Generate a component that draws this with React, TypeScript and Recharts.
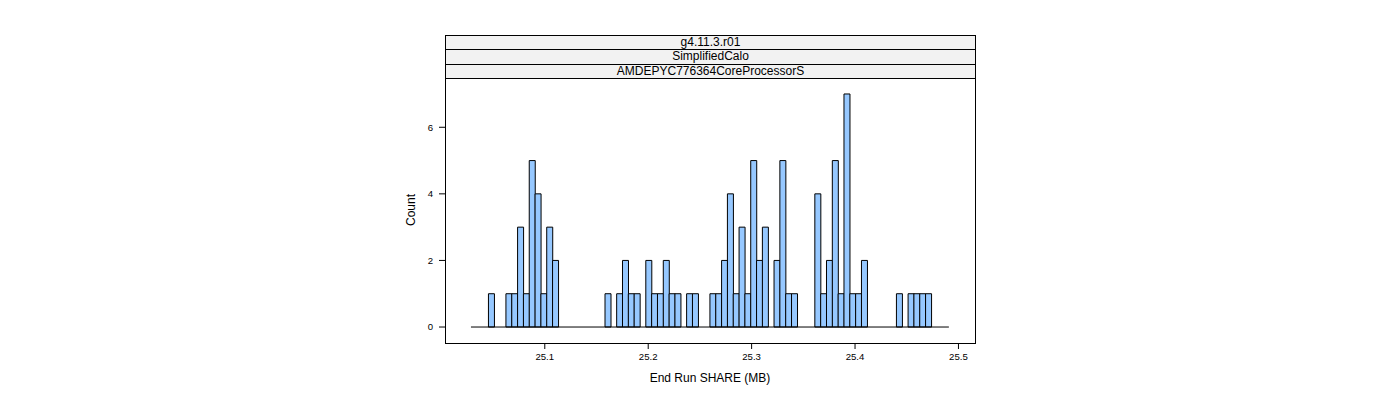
import { BarChart, Bar, XAxis, YAxis, ReferenceLine } from "recharts";

// histogram breaks
const BREAK_START = 25.0286;
const BIN_WIDTH = 0.005636;
const COUNTS = [
  0, 0, 0, 1, 0, 0, 1, 1, 3, 1, 5, 4, 1, 3, 2,
  0, 0, 0, 0, 0, 0, 0, 0,
  1, 0, 1, 2, 1, 1, 0, 2, 1, 1, 2, 1, 1, 0, 1, 1, 0, 0,
  1, 1, 2, 4, 1, 3, 1, 5, 2, 3, 0, 2, 5, 1, 1, 0, 0, 0,
  4, 1, 2, 5, 1, 7, 1, 1, 2,
  0, 0, 0, 0, 0,
  1, 0, 1, 1, 1, 1, 0, 0, 0,
];
const X_TICKS = [25.1, 25.2, 25.3, 25.4, 25.5];
const Y_TICKS = [0, 2, 4, 6];
const STRIPS = ["g4.11.3.r01", "SimplifiedCalo", "AMDEPYC776364CoreProcessorS"];

const X_DOMAIN = [25.0035, 25.516];
const Y_DOMAIN = [-0.48, 7.48];
const FONT = "'Liberation Sans', Arial, sans-serif";

const data = COUNTS.map((count, i) => ({
  mid: BREAK_START + (i + 0.5) * BIN_WIDTH,
  count,
}));
const breakEnd = BREAK_START + COUNTS.length * BIN_WIDTH;

const TopTick = (props: any) => (
  <line x1={props.x} x2={props.x} y1={29} y2={35} stroke="#000" strokeWidth={1} />
);

export default function App() {
  return (
    <div style={{ position: "absolute", left: 0, top: 0, width: 1400, height: 400, fontFamily: FONT, background: "#fff" }}>
      <BarChart
        width={1400}
        height={400}
        data={data}
        margin={{ top: 78, right: 415, bottom: 29, left: 400 }}
        barCategoryGap={0}
        barGap={0}
      >
        <XAxis
          dataKey="mid"
          type="number"
          domain={X_DOMAIN}
          allowDataOverflow
          ticks={X_TICKS}
          tickFormatter={(v: number) => v.toFixed(1)}
          height={28}
          tickSize={6}
          tickMargin={4}
          axisLine={false}
          tickLine={{ stroke: "#000" }}
          tick={{ fontSize: 9.6, fill: "#000", fontFamily: FONT }}
        />
        <XAxis
          xAxisId="top"
          orientation="top"
          type="number"
          domain={X_DOMAIN}
          allowDataOverflow
          ticks={X_TICKS}
          height={0}
          axisLine={false}
          tickLine={false}
          tick={TopTick}
        />
        <YAxis
          type="number"
          domain={Y_DOMAIN}
          allowDataOverflow
          ticks={Y_TICKS}
          width={45}
          tickSize={6}
          tickMargin={6}
          axisLine={false}
          tickLine={{ stroke: "#000" }}
          tick={{ fontSize: 9.6, fill: "#000", fontFamily: FONT }}
        />
        <YAxis
          yAxisId="r"
          orientation="right"
          type="number"
          domain={Y_DOMAIN}
          allowDataOverflow
          ticks={Y_TICKS}
          width={10}
          tickSize={6}
          axisLine={false}
          tickLine={{ stroke: "#000" }}
          tick={false}
        />
        <ReferenceLine
          segment={[{ x: BREAK_START, y: 0 }, { x: breakEnd, y: 0 }]}
          stroke="#000"
          strokeWidth={1}
        />
        <Bar dataKey="count" fill="#96c8ff" stroke="#000" strokeWidth={1} isAnimationActive={false} />
      </BarChart>

      {/* panel border */}
      <div style={{ position: "absolute", left: 445, top: 78, width: 531, height: 266, boxSizing: "border-box", border: "1px solid #000" }} />

      {/* strips */}
      <div style={{ position: "absolute", left: 445, top: 35, width: 531, boxSizing: "border-box", border: "1px solid #000", borderBottom: "none" }}>
        {STRIPS.map((s) => (
          <div
            key={s}
            style={{
              height: 13.33,
              lineHeight: "13.33px",
              background: "#f2f2f2",
              borderBottom: "1px solid #000",
              textAlign: "center",
              fontSize: 12,
              color: "#000",
            }}
          >
            {s}
          </div>
        ))}
      </div>

      <div style={{ position: "absolute", left: 0, width: 1420, top: 370, textAlign: "center", fontSize: 12, lineHeight: "16px" }}>
        End Run SHARE (MB)
      </div>
      <div style={{ position: "absolute", left: 411, top: 210, fontSize: 12, lineHeight: "14px", transform: "translate(-50%, -50%) rotate(-90deg)", whiteSpace: "nowrap" }}>
        Count
      </div>
    </div>
  );
}
